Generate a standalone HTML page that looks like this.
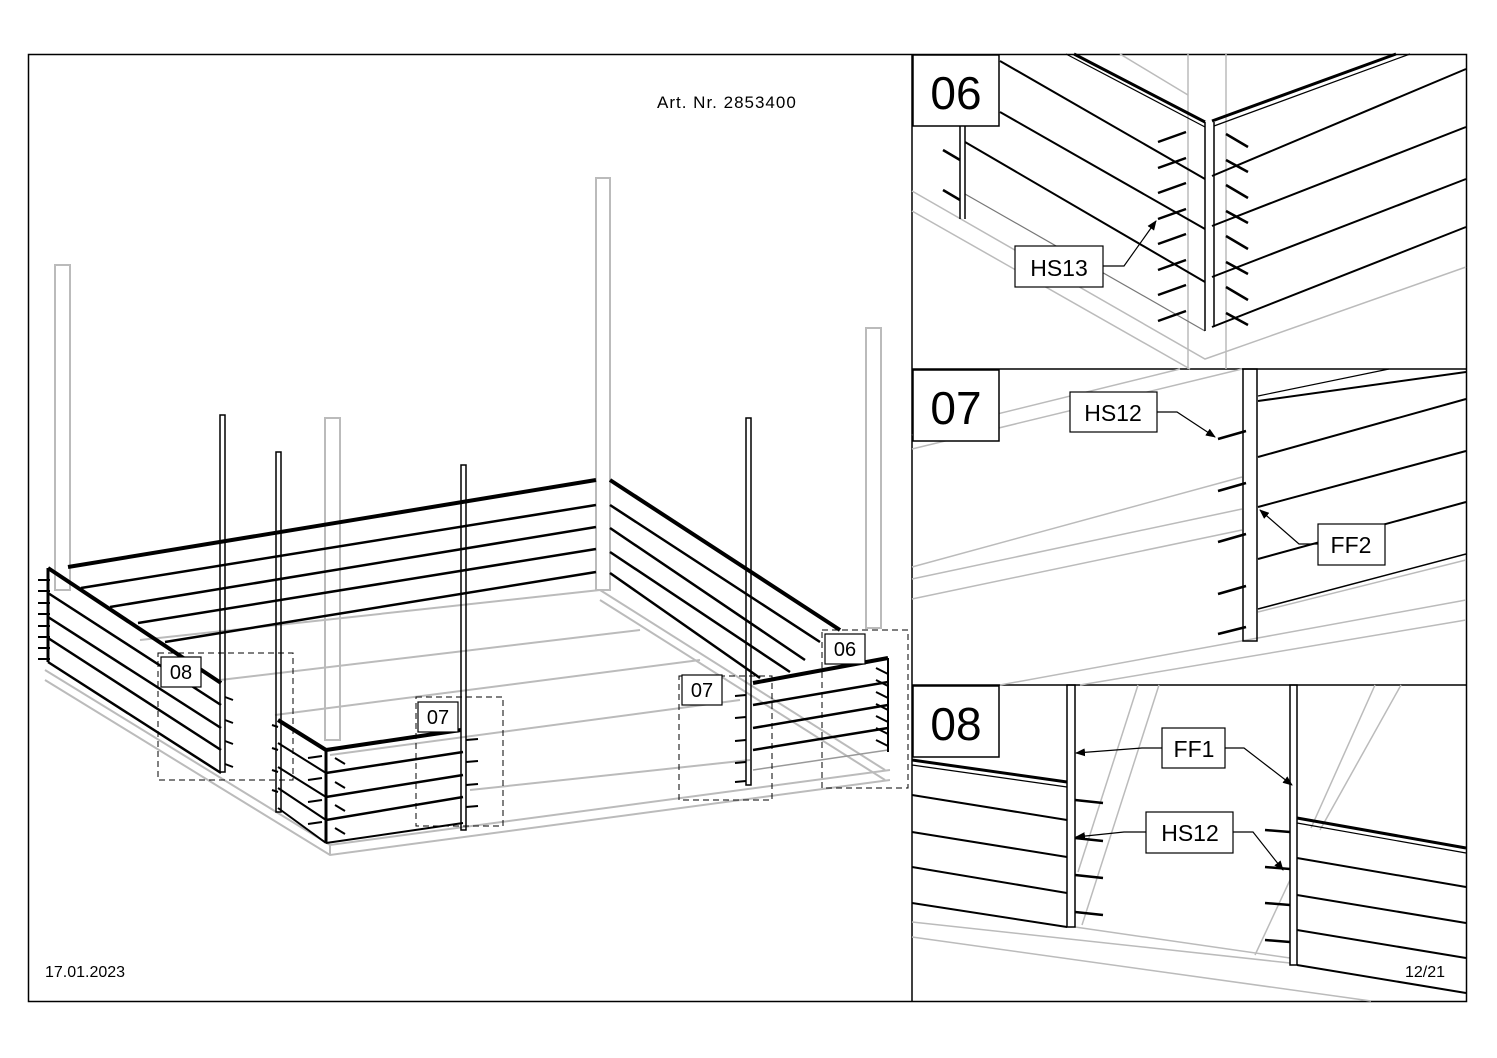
<!DOCTYPE html>
<html><head><meta charset="utf-8"><style>
html,body{margin:0;padding:0;background:#fff}
svg{display:block}
text{font-family:"Liberation Sans",sans-serif}
</style></head><body>
<svg width="1497" height="1058" viewBox="0 0 1497 1058" xmlns="http://www.w3.org/2000/svg">
<defs>
<marker id="ah" markerWidth="10" markerHeight="8" refX="9" refY="4" orient="auto" markerUnits="userSpaceOnUse"><path d="M0,0 L10,4 L0,8 z" fill="#000"/></marker>
</defs>
<rect x="28.5" y="54.5" width="1438" height="947" fill="none" stroke="#000" stroke-width="1.5"/>
<line x1="912" y1="54" x2="912" y2="1001" stroke="#000" stroke-width="1.5"/>
<line x1="912" y1="369" x2="1466" y2="369" stroke="#000" stroke-width="1.5"/>
<line x1="912" y1="685" x2="1466" y2="685" stroke="#000" stroke-width="1.5"/>

<!-- LEFT: grey ground/frame -->
<g stroke="#bbb" stroke-width="2" fill="none">
<rect x="55" y="265" width="15" height="325"/>
<rect x="596" y="178" width="14" height="412"/>
<rect x="866" y="328" width="15" height="300"/>
<rect x="325" y="418" width="15" height="322"/>
<polyline points="45,670 330,845 890,770"/>
<polyline points="45,680 330,855 890,780"/>
<polyline points="330,845 330,855"/>
<polyline points="600,590 885,770"/>
<polyline points="600,600 885,780"/>
<polyline points="140,640 600,590"/>
<polyline points="220,680 640,630"/>
<polyline points="275,715 700,660"/>
<polyline points="330,755 740,700"/>
<polyline points="470,790 750,760"/>
</g>
<g stroke="#000" fill="none">
<!-- back wall -->
<line x1="68" y1="567" x2="596" y2="480" stroke-width="4"/>
<line x1="81" y1="588" x2="596" y2="505" stroke-width="2.5"/>
<line x1="110" y1="607" x2="596" y2="527" stroke-width="2.5"/>
<line x1="138" y1="623" x2="596" y2="549" stroke-width="2.5"/>
<line x1="165" y1="642" x2="596" y2="572" stroke-width="2.5"/>
<!-- right wall -->
<line x1="610" y1="480" x2="840" y2="630" stroke-width="4"/>
<line x1="610" y1="505" x2="820" y2="642" stroke-width="2.5"/>
<line x1="610" y1="528" x2="805" y2="660" stroke-width="2.5"/>
<line x1="610" y1="552" x2="790" y2="672" stroke-width="2.5"/>
<line x1="610" y1="573" x2="760" y2="678" stroke-width="2.5"/>
<!-- left wall -->
<line x1="48" y1="568" x2="221" y2="683" stroke-width="4"/>
<line x1="48" y1="593" x2="221" y2="705" stroke-width="2.5"/>
<line x1="48" y1="617" x2="221" y2="728" stroke-width="2.5"/>
<line x1="48" y1="638" x2="221" y2="750" stroke-width="2.5"/>
<line x1="48" y1="662" x2="221" y2="773" stroke-width="2.5"/>
<line x1="48" y1="568" x2="48" y2="662" stroke-width="3"/>
<!-- front corner -->
<line x1="278" y1="720" x2="326" y2="750" stroke-width="4"/>
<line x1="278" y1="743" x2="326" y2="773" stroke-width="2"/>
<line x1="278" y1="767" x2="326" y2="797" stroke-width="2"/>
<line x1="278" y1="788" x2="326" y2="820" stroke-width="2"/>
<line x1="278" y1="808" x2="326" y2="843" stroke-width="2"/>
<line x1="326" y1="750" x2="326" y2="843" stroke-width="3"/>
<line x1="326" y1="750" x2="461" y2="730" stroke-width="4"/>
<line x1="326" y1="773" x2="463" y2="752" stroke-width="2.5"/>
<line x1="326" y1="797" x2="463" y2="775" stroke-width="2.5"/>
<line x1="326" y1="820" x2="463" y2="797" stroke-width="2.5"/>
<line x1="326" y1="843" x2="463" y2="823" stroke-width="2"/>
<!-- right front -->
<line x1="753" y1="683" x2="888" y2="658" stroke-width="4"/>
<line x1="753" y1="705" x2="888" y2="682" stroke-width="2.5"/>
<line x1="753" y1="728" x2="888" y2="705" stroke-width="2.5"/>
<line x1="753" y1="750" x2="888" y2="728" stroke-width="2.5"/>
<line x1="753" y1="770" x2="888" y2="750" stroke-width="1.5" stroke="#999"/>
<line x1="888" y1="658" x2="888" y2="752" stroke-width="2"/>
<!-- black posts -->
<rect x="220" y="415" width="5" height="357" stroke-width="1.5"/>
<rect x="276" y="452" width="5" height="360" stroke-width="1.5"/>
<rect x="461" y="465" width="5" height="365" stroke-width="1.5"/>
<rect x="746" y="418" width="5" height="367" stroke-width="1.5"/>
</g>
<g stroke="#000" stroke-width="2">
<line x1="38" y1="580" x2="50" y2="580"/><line x1="38" y1="591" x2="50" y2="591"/><line x1="38" y1="603" x2="50" y2="603"/><line x1="38" y1="614" x2="50" y2="614"/><line x1="38" y1="626" x2="50" y2="626"/><line x1="38" y1="637" x2="50" y2="637"/><line x1="38" y1="648" x2="50" y2="648"/><line x1="38" y1="659" x2="50" y2="659"/>
<line x1="225" y1="697" x2="233" y2="700"/><line x1="225" y1="720" x2="233" y2="723"/><line x1="225" y1="741" x2="233" y2="744"/><line x1="225" y1="764" x2="233" y2="767"/>
<line x1="272" y1="725" x2="278" y2="727"/><line x1="272" y1="748" x2="278" y2="750"/><line x1="272" y1="770" x2="278" y2="772"/><line x1="272" y1="790" x2="278" y2="792"/>
<line x1="308" y1="758" x2="322" y2="756"/><line x1="308" y1="780" x2="322" y2="778"/><line x1="308" y1="802" x2="322" y2="800"/><line x1="308" y1="824" x2="322" y2="822"/>
<line x1="335" y1="758" x2="345" y2="764"/><line x1="335" y1="782" x2="345" y2="788"/><line x1="335" y1="805" x2="345" y2="811"/><line x1="335" y1="828" x2="345" y2="834"/>
<line x1="466" y1="740" x2="478" y2="739"/><line x1="466" y1="762" x2="478" y2="761"/><line x1="466" y1="785" x2="478" y2="784"/><line x1="466" y1="807" x2="478" y2="806"/>
<line x1="735" y1="696" x2="746" y2="695"/><line x1="735" y1="718" x2="746" y2="717"/><line x1="735" y1="741" x2="746" y2="740"/><line x1="735" y1="763" x2="746" y2="762"/><line x1="735" y1="782" x2="746" y2="781"/>
<line x1="876" y1="668" x2="888" y2="674"/><line x1="876" y1="680" x2="888" y2="686"/><line x1="876" y1="692" x2="888" y2="698"/><line x1="876" y1="704" x2="888" y2="710"/><line x1="876" y1="716" x2="888" y2="722"/><line x1="876" y1="728" x2="888" y2="734"/><line x1="876" y1="740" x2="888" y2="746"/>
</g>
<g stroke="#000" stroke-width="1" fill="none" stroke-dasharray="6,4">
<rect x="158" y="653" width="135" height="127"/>
<rect x="416" y="697" width="87" height="129"/>
<rect x="679" y="676" width="93" height="124"/>
<rect x="822" y="630" width="86" height="158"/>
</g>
<g stroke="#000" stroke-width="1.2" fill="#fff">
<rect x="161" y="657" width="40" height="30"/>
<rect x="418" y="702" width="40" height="30"/>
<rect x="682" y="675" width="40" height="30"/>
<rect x="825" y="634" width="40" height="30"/>
</g>
<g font-size="20" text-anchor="middle">
<text x="181" y="679">08</text><text x="438" y="724">07</text><text x="702" y="697">07</text><text x="845" y="656">06</text>
</g>
<text x="657" y="108" font-size="17" letter-spacing="1">Art. Nr. 2853400</text>
<text x="45" y="977" font-size="16">17.01.2023</text>
<text x="1405" y="977" font-size="16">12/21</text>

<!-- PANEL 06 -->
<g stroke="#bbb" stroke-width="1.5" fill="none">
<polyline points="912,191 1205,359 1466,267"/>
<polyline points="912,211 1190,369"/>
<line x1="1188" y1="54" x2="1188" y2="369"/>
<line x1="1226" y1="54" x2="1226" y2="369"/>
<line x1="1120" y1="54" x2="1188" y2="95"/>
</g>
<g stroke="#000" fill="none">
<line x1="1074" y1="54" x2="1205" y2="122" stroke-width="3"/>
<line x1="1066" y1="54" x2="1205" y2="127" stroke-width="1.2"/>
<line x1="1212" y1="121" x2="1396" y2="54" stroke-width="3"/>
<line x1="1214" y1="126" x2="1410" y2="54" stroke-width="1.2"/>
<line x1="1000" y1="61" x2="1205" y2="179" stroke-width="2"/>
<line x1="1000" y1="112" x2="1205" y2="229" stroke-width="2"/>
<line x1="965" y1="142" x2="1205" y2="282" stroke-width="2"/>
<line x1="965" y1="194" x2="1205" y2="331" stroke-width="1.2" stroke="#777"/>
<line x1="1212" y1="176" x2="1466" y2="69" stroke-width="2"/>
<line x1="1212" y1="226" x2="1466" y2="127" stroke-width="2"/>
<line x1="1212" y1="277" x2="1466" y2="179" stroke-width="2"/>
<line x1="1212" y1="327" x2="1466" y2="227" stroke-width="2"/>
<line x1="1205" y1="122" x2="1205" y2="331" stroke-width="1.5"/>
<line x1="1214" y1="122" x2="1214" y2="327" stroke-width="1.5"/>
<line x1="960" y1="126" x2="960" y2="219" stroke-width="1.5"/>
<line x1="965" y1="126" x2="965" y2="219" stroke-width="1.5"/>
</g>
<g stroke="#000" stroke-width="2.5">
<line x1="1158" y1="142" x2="1186" y2="132"/><line x1="1158" y1="168" x2="1186" y2="158"/><line x1="1158" y1="193" x2="1186" y2="183"/><line x1="1158" y1="219" x2="1186" y2="209"/><line x1="1158" y1="244" x2="1186" y2="234"/><line x1="1158" y1="270" x2="1186" y2="260"/><line x1="1158" y1="295" x2="1186" y2="285"/><line x1="1158" y1="321" x2="1186" y2="311"/>
<line x1="1226" y1="134" x2="1248" y2="147"/><line x1="1226" y1="160" x2="1248" y2="172"/><line x1="1226" y1="185" x2="1248" y2="198"/><line x1="1226" y1="211" x2="1248" y2="223"/><line x1="1226" y1="236" x2="1248" y2="249"/><line x1="1226" y1="262" x2="1248" y2="274"/><line x1="1226" y1="287" x2="1248" y2="300"/><line x1="1226" y1="313" x2="1248" y2="325"/>
<line x1="943" y1="150" x2="960" y2="160"/><line x1="943" y1="190" x2="960" y2="200"/>
</g>
<polyline points="1103,266 1124,266 1156,221" stroke="#000" fill="none" stroke-width="1.2" marker-end="url(#ah)"/>
<rect x="1015" y="246" width="88" height="41" fill="#fff" stroke="#000" stroke-width="1.2"/>
<text x="1059" y="276" font-size="23" text-anchor="middle">HS13</text>
<rect x="913" y="55" width="86" height="71" fill="#fff" stroke="#000" stroke-width="1.5"/>
<text x="956" y="109" font-size="46" text-anchor="middle">06</text>

<!-- PANEL 07 -->
<g stroke="#bbb" stroke-width="1.5" fill="none">
<line x1="912" y1="449" x2="1242" y2="369"/>
<line x1="912" y1="435" x2="1180" y2="369"/>
<line x1="912" y1="567" x2="1242" y2="477"/>
<line x1="912" y1="579" x2="1242" y2="509"/>
<line x1="912" y1="599" x2="1242" y2="530"/>
<line x1="1000" y1="685" x2="1466" y2="600"/>
<line x1="1080" y1="685" x2="1466" y2="620"/>
<line x1="1258" y1="612" x2="1466" y2="560"/>
</g>
<g stroke="#000" fill="none">
<rect x="1243" y="369" width="14" height="272" stroke-width="1.5"/>
<line x1="1258" y1="401" x2="1466" y2="372" stroke-width="2"/>
<line x1="1258" y1="396" x2="1389" y2="369" stroke-width="1.2"/>
<line x1="1258" y1="457" x2="1466" y2="399" stroke-width="2"/>
<line x1="1258" y1="507" x2="1466" y2="451" stroke-width="2"/>
<line x1="1258" y1="559" x2="1466" y2="502" stroke-width="2"/>
<line x1="1258" y1="609" x2="1466" y2="554" stroke-width="1.5"/>
</g>
<g stroke="#000" stroke-width="2.5">
<line x1="1218" y1="439" x2="1246" y2="431"/><line x1="1218" y1="491" x2="1246" y2="483"/><line x1="1218" y1="542" x2="1246" y2="534"/><line x1="1218" y1="594" x2="1246" y2="586"/><line x1="1218" y1="634" x2="1246" y2="627"/>
</g>
<polyline points="1157,412 1177,412 1215,437" stroke="#000" fill="none" stroke-width="1.2" marker-end="url(#ah)"/>
<polyline points="1318,544 1299,544 1260,510" stroke="#000" fill="none" stroke-width="1.2" marker-end="url(#ah)"/>
<rect x="1070" y="392" width="87" height="40" fill="#fff" stroke="#000" stroke-width="1.2"/>
<text x="1113" y="421" font-size="23" text-anchor="middle">HS12</text>
<rect x="1318" y="524" width="67" height="41" fill="#fff" stroke="#000" stroke-width="1.2"/>
<text x="1351" y="553" font-size="23" text-anchor="middle">FF2</text>
<rect x="913" y="370" width="86" height="71" fill="#fff" stroke="#000" stroke-width="1.5"/>
<text x="956" y="424" font-size="46" text-anchor="middle">07</text>

<!-- PANEL 08 -->
<g stroke="#bbb" stroke-width="1.5" fill="none">
<line x1="1138" y1="685" x2="1078" y2="872"/><line x1="1159" y1="685" x2="1082" y2="925"/>
<line x1="1375" y1="685" x2="1311" y2="828"/><line x1="1401" y1="685" x2="1320" y2="830"/>
<line x1="1290" y1="880" x2="1255" y2="955"/>
<line x1="912" y1="922" x2="1290" y2="963"/>
<line x1="912" y1="937" x2="1371" y2="1001"/>
<line x1="1075" y1="927" x2="1290" y2="958"/>
</g>
<g stroke="#000" fill="none">
<rect x="1067" y="685" width="8" height="242" stroke-width="1.5"/>
<rect x="1290" y="685" width="7" height="280" stroke-width="1.5"/>
<line x1="912" y1="760" x2="1067" y2="782" stroke-width="3"/>
<line x1="912" y1="765" x2="1067" y2="787" stroke-width="1.2"/>
<line x1="912" y1="795" x2="1067" y2="820" stroke-width="2"/>
<line x1="912" y1="832" x2="1067" y2="857" stroke-width="2"/>
<line x1="912" y1="867" x2="1067" y2="893" stroke-width="2"/>
<line x1="912" y1="903" x2="1067" y2="927" stroke-width="2"/>
<line x1="1297" y1="818" x2="1466" y2="848" stroke-width="3"/>
<line x1="1297" y1="823" x2="1466" y2="853" stroke-width="1.2"/>
<line x1="1297" y1="858" x2="1466" y2="887" stroke-width="2"/>
<line x1="1297" y1="895" x2="1466" y2="923" stroke-width="2"/>
<line x1="1297" y1="930" x2="1466" y2="958" stroke-width="2"/>
<line x1="1297" y1="965" x2="1466" y2="993" stroke-width="2"/>
</g>
<g stroke="#000" stroke-width="2.5">
<line x1="1075" y1="800" x2="1103" y2="803"/><line x1="1075" y1="838" x2="1103" y2="841"/><line x1="1075" y1="875" x2="1103" y2="878"/><line x1="1075" y1="912" x2="1103" y2="915"/>
<line x1="1265" y1="830" x2="1290" y2="832"/><line x1="1265" y1="867" x2="1290" y2="869"/><line x1="1265" y1="903" x2="1290" y2="905"/><line x1="1265" y1="940" x2="1290" y2="942"/>
</g>
<g stroke="#000" fill="none" stroke-width="1.2">
<polyline points="1162,748 1142,748 1076,753" marker-end="url(#ah)"/>
<polyline points="1225,748 1244,748 1292,785" marker-end="url(#ah)"/>
<polyline points="1146,832 1124,832 1076,837" marker-end="url(#ah)"/>
<polyline points="1233,832 1253,832 1283,870" marker-end="url(#ah)"/>
</g>
<rect x="1162" y="728" width="63" height="40" fill="#fff" stroke="#000" stroke-width="1.2"/>
<text x="1194" y="757" font-size="23" text-anchor="middle">FF1</text>
<rect x="1146" y="812" width="87" height="41" fill="#fff" stroke="#000" stroke-width="1.2"/>
<text x="1190" y="841" font-size="23" text-anchor="middle">HS12</text>
<rect x="913" y="686" width="86" height="71" fill="#fff" stroke="#000" stroke-width="1.5"/>
<text x="956" y="740" font-size="46" text-anchor="middle">08</text>
</svg>
</body></html>
